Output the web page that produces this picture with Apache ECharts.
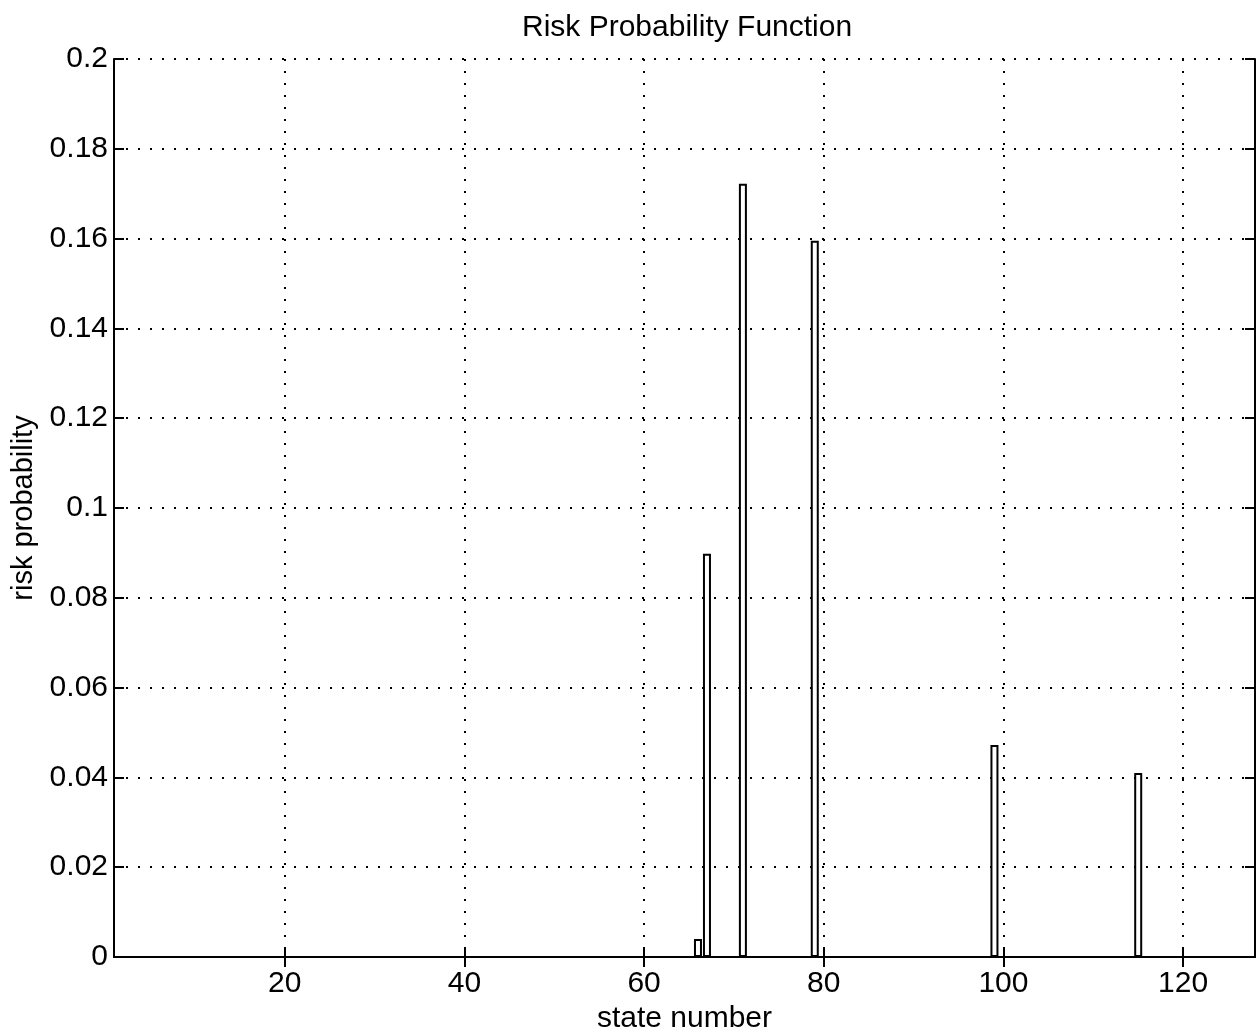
<!DOCTYPE html>
<html lang="en">
<head>
    <meta charset="utf-8">
    <title>Risk Probability Function</title>
    <script src="https://cdn.jsdelivr.net/npm/echarts@6/dist/echarts.min.js"></script>
    <style>
        html, body { margin: 0; padding: 0; background: #fff; }
    </style>
</head>
<body>
<div id="chartBar" style="width:1259px; height:1035px;"></div>

<script>
    // state number -> risk probability (all other states are 0)
    var states = [66, 67, 71, 79, 99, 115];
    var probs = [0.004, 0.0898, 0.1722, 0.1595, 0.0472, 0.041];
    var xTicks = [20, 40, 60, 80, 100, 120];

    var font = "'Liberation Sans', Arial, Helvetica, sans-serif";

    var barData = [];
    for (var i = 0; i < states.length; i++) {
        barData.push([states[i], probs[i]]);
    }

    var chartBar = echarts.init(document.getElementById('chartBar'));
    chartBar.setOption({
        animation: false,
        backgroundColor: '#fff',
        title: {
            text: 'Risk Probability Function',
            left: 517,
            top: 8,
            textStyle: { fontFamily: font, fontSize: 30, fontWeight: 'normal', color: '#000' }
        },
        grid: { left: 114, right: 4, top: 59, bottom: 78, outerBoundsMode: 'none', containLabel: false },
        xAxis: [
            {
                type: 'value',
                min: 1,
                max: 128,
                name: 'state number',
                nameLocation: 'middle',
                nameGap: 38,
                nameTextStyle: { fontFamily: font, fontSize: 30, color: '#000' },
                axisLine: { show: true, lineStyle: { color: '#000', width: 2 } },
                axisTick: { show: true, inside: true, length: 10, customValues: xTicks,
                    lineStyle: { color: '#000', width: 2 } },
                axisLabel: { customValues: xTicks, margin: 12, fontFamily: font, fontSize: 30, color: '#000' },
                splitLine: { show: true, lineStyle: { color: '#000', width: 2, type: [2, 10] } }
            },
            {
                type: 'value',
                position: 'top',
                min: 1,
                max: 128,
                axisLine: { show: true, lineStyle: { color: '#000', width: 2 } },
                axisTick: { show: true, inside: true, length: 10, customValues: xTicks,
                    lineStyle: { color: '#000', width: 2 } },
                axisLabel: { show: false },
                splitLine: { show: false }
            }
        ],
        yAxis: [
            {
                type: 'value',
                min: 0,
                max: 0.2,
                interval: 0.02,
                name: 'risk probability',
                nameLocation: 'middle',
                nameGap: 66,
                nameTextStyle: { fontFamily: font, fontSize: 29, color: '#000' },
                axisLine: { show: true, lineStyle: { color: '#000', width: 2 } },
                axisTick: { show: true, inside: true, length: 10, lineStyle: { color: '#000', width: 2 } },
                axisLabel: {
                    margin: 6, fontFamily: font, fontSize: 30, color: '#000',
                    formatter: function (v) { return String(+v.toFixed(2)); }
                },
                splitLine: { show: true, lineStyle: { color: '#000', width: 2, type: [2, 10] } }
            },
            {
                type: 'value',
                position: 'right',
                min: 0,
                max: 0.2,
                interval: 0.02,
                axisLine: { show: true, lineStyle: { color: '#000', width: 2 } },
                axisTick: { show: true, inside: true, length: 10, lineStyle: { color: '#000', width: 2 } },
                axisLabel: { show: false },
                splitLine: { show: false }
            }
        ],
        series: [
            {
                name: 'risk probability',
                type: 'bar',
                xAxisIndex: 0,
                yAxisIndex: 0,
                barWidth: 8,
                data: barData,
                itemStyle: { color: '#fff', borderColor: '#000', borderWidth: 2 }
            }
        ]
    });
</script>
</body>
</html>
